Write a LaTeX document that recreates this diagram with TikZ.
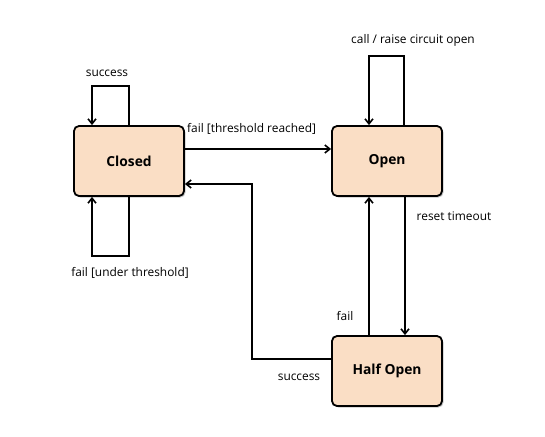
\documentclass[tikz,border=0pt]{standalone}
\usepackage{fontspec}
\setmainfont{Open Sans}
\usetikzlibrary{arrows.meta,shadows}
\definecolor{peach}{RGB}{250,222,197}
\tikzset{
  state/.style={draw=black, line width=1.8pt, fill=peach, rounded corners=5pt,
    minimum width=110pt, minimum height=70pt, font=\fontsize{13.8}{16}\selectfont\bfseries,
    drop shadow={shadow xshift=1.5pt, shadow yshift=-1.5pt, opacity=0.45}},
  conn/.style={draw=black, line width=1.6pt, -{Straight Barb[length=5pt,width=8pt,line width=1.6pt]}},
  lbl/.style={font=\fontsize{11.9}{14}\selectfont, inner sep=0pt}
}
\begin{document}
\begin{tikzpicture}[x=1pt,y=-1pt]
\useasboundingbox (0,0) rectangle (545,436);
\node[state] (closed) at (129,161) {\raisebox{-1pt}{Closed}};
\node[state] (open) at (387,161) {\raisebox{-1pt}{Open}};
\node[state] (half) at (387,371) {\raisebox{-1pt}{Half Open}};
% self loop closed top
\coordinate (c1) at (129,86);
\coordinate (c2) at (92,86);
\draw[conn] (closed.north -| c1) -- (c1) -- (c2) -- (closed.north -| c2);
\node[lbl] (ls) at (107,73) {success};
% self loop closed bottom
\coordinate (c3) at (129,256);
\coordinate (c4) at (92,256);
\draw[conn] (closed.south -| c3) -- (c3) -- (c4) -- (closed.south -| c4);
\node[lbl] (lft) at (130,273) {fail [under threshold]};
% self loop open
\coordinate (o1) at (404,56);
\coordinate (o2) at (369,56);
\draw[conn] (open.north -| o1) -- (o1) -- (o2) -- (open.north -| o2);
\node[lbl] (lcall) at (413,40) {call / raise circuit open};
% closed -> open
\coordinate (t1) at (250,149);
\draw[conn] (closed.east |- t1) -- (open.west |- t1);
\node[lbl, anchor=west] (ltr) at (187,129) {fail [threshold reached]};
% half -> closed (success)
\coordinate (s1) at (252,359);
\coordinate (s2) at (252,184);
\draw[conn] (half.west |- s1) -- (s1) -- (s2) -- (closed.east |- s2);
\node[lbl] (lsucc) at (299,377) {success};
% half -> open (fail)
\coordinate (f1) at (369,300);
\draw[conn] (half.north -| f1) -- (open.south -| f1);
\node[lbl] (lfail) at (345,316) {fail};
% open -> half (reset timeout)
\coordinate (r1) at (405,300);
\draw[conn] (open.south -| r1) -- (half.north -| r1);
\node[lbl] (lreset) at (454,216) {reset timeout};
\end{tikzpicture}
\end{document}
